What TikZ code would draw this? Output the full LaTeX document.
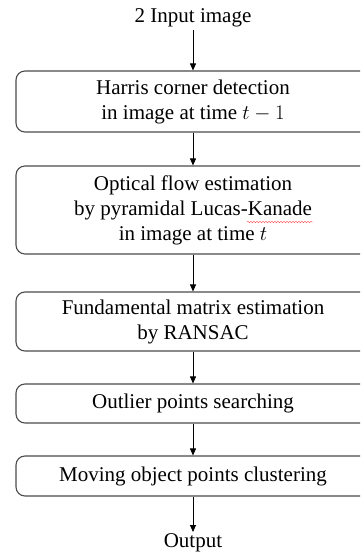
\documentclass[tikz,border=0pt]{standalone}
\usepackage{fontspec}
\setmainfont{Liberation Serif}
\usetikzlibrary{arrows.meta,decorations.pathmorphing}
\begin{document}
\begin{tikzpicture}[x=1pt,y=1pt,
  box/.style={draw=black!70, line width=1.1pt, rounded corners=9pt, minimum width=354pt, align=center, inner sep=0pt, font=\fontsize{21}{25}\selectfont},
  lbl/.style={inner sep=0pt, font=\fontsize{21}{25}\selectfont},
  arr/.style={line width=0.8pt, -{Triangle[length=7pt,width=6pt]}}]
\useasboundingbox (0,0) rectangle (360,-555);
\clip (0,0) rectangle (360,-555);
\fill[white] (0,0) rectangle (360,-555);
\node[lbl] (in) at (193,-18) {2 Input image};
\node[box, minimum height=61pt] (b1) at (193,-101.5) {Harris corner detection\\in image at time $t-1$};
\node[box, minimum height=88pt] (b2) at (193,-210) {Optical flow estimation\\by pyramidal Lucas-Kanade\\in image at time $t$};
\node[box, minimum height=59pt] (b3) at (193,-321.5) {Fundamental matrix estimation\\by RANSAC};
\node[box, minimum height=39pt] (b4) at (193,-403.5) {Outlier points searching};
\node[box, minimum height=40pt] (b5) at (193,-476) {Moving object points clustering};
\node[lbl] (out) at (193,-543) {Output};
\coordinate (a0) at (193,-30);
\coordinate (a6) at (193,-532);
\coordinate (s1) at (247,-222);
\coordinate (s2) at (313,-222);
\draw[red!70, line width=0.4pt, decorate, decoration={snake, amplitude=0.8pt, segment length=3pt}] (s1) -- (s2);
\draw[arr] (a0) -- (b1.north);
\draw[arr] (b1) -- (b2);
\draw[arr] (b2) -- (b3);
\draw[arr] (b3) -- (b4);
\draw[arr] (b4) -- (b5);
\draw[arr] (b5.south) -- (a6);
\end{tikzpicture}
\end{document}
